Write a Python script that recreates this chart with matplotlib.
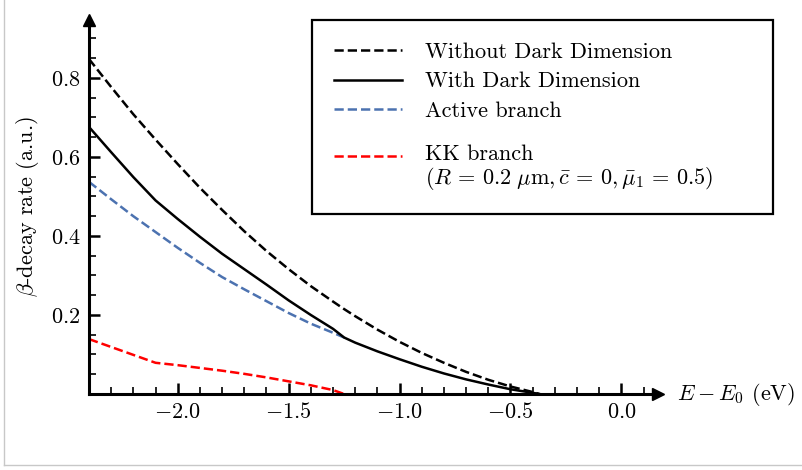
import matplotlib
matplotlib.use("Agg")
import matplotlib.pyplot as plt
from matplotlib.lines import Line2D
from matplotlib.ticker import MultipleLocator
from matplotlib.legend_handler import HandlerLine2D
from matplotlib.offsetbox import VPacker, DrawingArea

plt.rcParams["font.family"] = "serif"
plt.rcParams["font.serif"] = ["cmr10"]
plt.rcParams["mathtext.fontset"] = "cm"
plt.rcParams["axes.formatter.use_mathtext"] = True
plt.rcParams["axes.unicode_minus"] = True
plt.rcParams["font.size"] = 16

# energy grid E - E0 (eV)
energy = [-2.4, -2.3, -2.2, -2.1, -2.0, -1.9, -1.8, -1.7, -1.6, -1.5, -1.4, -1.3,
          -1.25, -1.2, -1.1, -1.0, -0.9, -0.8, -0.7, -0.6, -0.5, -0.4, -0.37]

without_dd = [0.848, 0.777, 0.708, 0.644, 0.582, 0.522, 0.466, 0.412, 0.362, 0.316,
              0.273, 0.234, 0.215, 0.197, 0.163, 0.132, 0.104, 0.079, 0.056, 0.036,
              0.019, 0.005, 0.0]
with_dd = [0.676, 0.612, 0.549, 0.490, 0.443, 0.398, 0.355, 0.316, 0.277, 0.237,
           0.200, 0.165, 0.143, 0.130, 0.108, 0.088, 0.069, 0.052, 0.037, 0.024,
           0.012, 0.003, 0.0]

# branches only shown while the KK branch is open
branch_energy = energy[:13]
active = [0.537, 0.493, 0.450, 0.410, 0.370, 0.332, 0.296, 0.265, 0.235, 0.205,
          0.178, 0.155, 0.143]
kk = [0.139, 0.119, 0.099, 0.079, 0.073, 0.066, 0.059, 0.051, 0.042, 0.032,
      0.022, 0.010, 0.0]

labels = ["Without Dark Dimension", "With Dark Dimension", "Active branch",
          "KK branch\n"
          + r"$(R\,=\,0.2\ \mu\mathrm{m}, \bar{c}\,=\,0, \bar{\mu}_1\,=\,0.5)$"]


class TopLineHandler(HandlerLine2D):
    # put the handle next to the first line of a two-line label
    def create_artists(self, legend, orig_handle, xdescent, ydescent, width,
                       height, fontsize, trans):
        return super().create_artists(legend, orig_handle, xdescent,
                                      ydescent - 1.1 * fontsize, width, height,
                                      fontsize, trans)


fig = plt.figure(figsize=(8.02, 4.70), dpi=100)
ax = fig.add_axes([89 / 802, 76 / 470, 569 / 802, 374.5 / 470])

lw = 1.8
l1, = ax.plot(energy, without_dd, color="black", ls="--", lw=lw, zorder=3)
l2, = ax.plot(energy, with_dd, color="black", ls="-", lw=lw, zorder=4)
l3, = ax.plot(branch_energy, active, color="#4C72B0", ls="--", lw=lw, zorder=2)
l4, = ax.plot(branch_energy, kk, color="red", ls="--", lw=lw, zorder=2)

ax.set_xlim(-2.4, 0.165)
ax.set_ylim(0, 0.948)

for side in ("top", "right"):
    ax.spines[side].set_visible(False)
for side in ("left", "bottom"):
    ax.spines[side].set_linewidth(2.2)

# axis arrows
ax.plot(1, 0, ">k", ms=9, transform=ax.transAxes, clip_on=False)
ax.plot(0, 1, "^k", ms=9, transform=ax.transAxes, clip_on=False)

ax.xaxis.set_major_locator(MultipleLocator(0.5))
ax.xaxis.set_minor_locator(MultipleLocator(0.1))
ax.set_yticks([0.2, 0.4, 0.6, 0.8])
ax.yaxis.set_minor_locator(MultipleLocator(0.05))
ax.tick_params(which="major", direction="in", length=8, width=1.8, pad=6,
               labelsize=16)
ax.tick_params(which="minor", direction="in", length=5, width=1.2)

ax.set_ylabel(r"$\beta$-decay rate (a.u.)", fontsize=16)
ax.yaxis.set_label_coords(-0.085, 0.5)
ax.annotate(r"$E - E_0$ (eV)", xy=(1, 0), xycoords="axes fraction",
            xytext=(14, 0), textcoords="offset points", ha="left", va="center",
            fontsize=16)

leg = ax.legend([l1, l2, l3, l4], labels, loc="upper left",
                bbox_to_anchor=(312 / 802, 1 - 212 / 470, (773 - 312) / 802, 192 / 470),
                bbox_transform=fig.transFigure, mode="expand", borderaxespad=0,
                handlelength=3.06, handletextpad=1.03, borderpad=1.0,
                labelspacing=0.45, fancybox=False, edgecolor="black",
                framealpha=1, fontsize=16,
                handler_map={l4: TopLineHandler()})
leg.get_frame().set_linewidth(1.6)
leg.get_texts()[3].set_linespacing(1.05)

# extra gap above the two-line KK entry
column = leg._legend_handle_box.get_children()[0]
entries = column.get_children()
entries[3] = VPacker(children=[DrawingArea(1, 9.5), entries[3]], sep=0, pad=0,
                     align="left")

# light frame of the original screenshot
fig.add_artist(Line2D([4 / 802, 4 / 802], [5 / 470, 1], color="#c8c8c8", lw=1))
fig.add_artist(Line2D([4 / 802, 1], [5 / 470, 5 / 470], color="#c8c8c8", lw=1))

fig.savefig("out.png", dpi=100)
